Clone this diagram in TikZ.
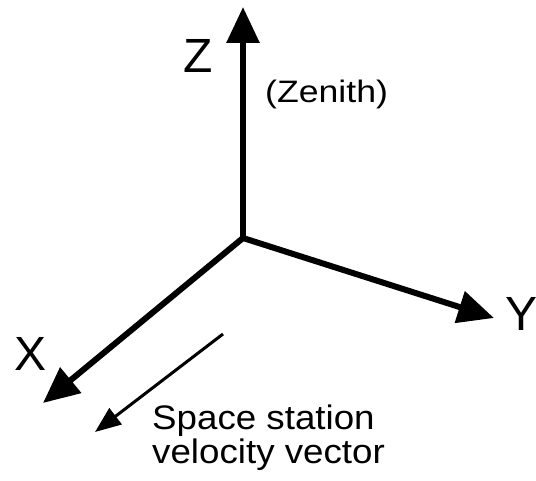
\documentclass[tikz,border=0pt]{standalone}
\usepackage{fontspec}
\setmainfont{Liberation Sans}
\newfontfamily\widefont[FakeStretch=1.08]{Liberation Sans}
\newfontfamily\widerfont[FakeStretch=1.15]{Liberation Sans}
\usetikzlibrary{arrows.meta}
\begin{document}
\begin{tikzpicture}[x=1pt,y=-1pt,
  axis/.style={line width=6pt,-{Triangle[length=36pt,width=32pt]}},
  velarrow/.style={line width=3pt,-{Triangle[length=26pt,width=20pt]}},
  bigletter/.style={inner sep=0pt,font=\fontsize{48}{48}\selectfont},
  smalltext/.style={inner sep=0pt,anchor=base west,align=left}]
\useasboundingbox (0,0) rectangle (536,481);
\coordinate (O) at (243,238);
\coordinate (Ztip) at (243,7);
\coordinate (Ytip) at (494,318);
\coordinate (Xtip) at (43,403);
\coordinate (Vstart) at (223,334);
\coordinate (Vtip) at (95,432);
\draw[axis] (O) -- (Ztip);
\draw[axis] (O) -- (Ytip);
\draw[axis] (O) -- (Xtip);
\draw[velarrow] (Vstart) -- (Vtip);
\node[bigletter] (Zlab) at (198,55.5) {Z};
\node[bigletter] (Ylab) at (521.5,314) {Y};
\node[bigletter] (Xlab) at (31,353.5) {X};
\node[smalltext] (zen) at (265,103) {\widerfont\fontsize{31}{31}\selectfont (Zenith)};
\node[smalltext] (sp) at (152,429) {\widefont\fontsize{34}{34}\selectfont Space station};
\node[smalltext] (vel) at (152,463) {\widefont\fontsize{34}{34}\selectfont velocity vector};
\end{tikzpicture}
\end{document}
